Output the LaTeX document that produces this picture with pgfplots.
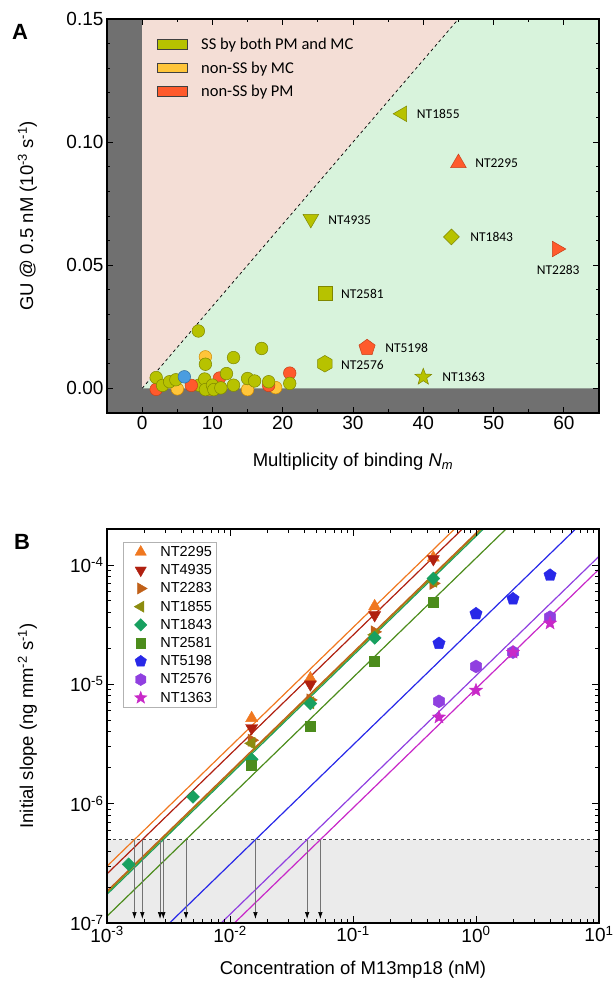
\documentclass[border=0pt]{standalone}
\usepackage{pgfplots}
\pgfplotsset{compat=1.18}
\usepackage{fontspec}
\setmainfont{Liberation Sans}
\newfontfamily\calib{Carlito}
\usetikzlibrary{arrows.meta}

\definecolor{dgrey}{HTML}{707070}
\definecolor{pinkbg}{HTML}{F4DED6}
\definecolor{greenbg}{HTML}{D8F3DC}
\definecolor{ssc}{HTML}{B7C200}
\definecolor{ssd}{HTML}{7F8700}
\definecolor{mcc}{HTML}{FFC53A}
\definecolor{mcd}{HTML}{D08A00}
\definecolor{pmc}{HTML}{FF5A2C}
\definecolor{pmd}{HTML}{C8401A}
\definecolor{bluec}{HTML}{4A9DE0}
\definecolor{c2295}{HTML}{F07820}
\definecolor{c4935}{HTML}{B02010}
\definecolor{c2283}{HTML}{C06018}
\definecolor{c1855}{HTML}{8C8C10}
\definecolor{c1843}{HTML}{18A060}
\definecolor{c2581}{HTML}{4C8C1C}
\definecolor{c5198}{HTML}{2828E8}
\definecolor{c2576}{HTML}{9040E0}
\definecolor{c1363}{HTML}{C828C8}

\pgfdeclareplotmark{hexagon*}{%
  \pgfpathmoveto{\pgfpointpolar{90}{\pgfplotmarksize}}%
  \pgfpathlineto{\pgfpointpolar{150}{\pgfplotmarksize}}%
  \pgfpathlineto{\pgfpointpolar{210}{\pgfplotmarksize}}%
  \pgfpathlineto{\pgfpointpolar{270}{\pgfplotmarksize}}%
  \pgfpathlineto{\pgfpointpolar{330}{\pgfplotmarksize}}%
  \pgfpathlineto{\pgfpointpolar{30}{\pgfplotmarksize}}%
  \pgfpathclose
  \pgfusepathqfillstroke}
\pgfdeclareplotmark{fstar*}{%
  \pgfpathmoveto{\pgfpointpolar{90}{\pgfplotmarksize}}%
  \pgfpathlineto{\pgfpointpolar{126}{0.42*\pgfplotmarksize}}%
  \pgfpathlineto{\pgfpointpolar{162}{\pgfplotmarksize}}%
  \pgfpathlineto{\pgfpointpolar{198}{0.42*\pgfplotmarksize}}%
  \pgfpathlineto{\pgfpointpolar{234}{\pgfplotmarksize}}%
  \pgfpathlineto{\pgfpointpolar{270}{0.42*\pgfplotmarksize}}%
  \pgfpathlineto{\pgfpointpolar{306}{\pgfplotmarksize}}%
  \pgfpathlineto{\pgfpointpolar{342}{0.42*\pgfplotmarksize}}%
  \pgfpathlineto{\pgfpointpolar{18}{\pgfplotmarksize}}%
  \pgfpathlineto{\pgfpointpolar{54}{0.42*\pgfplotmarksize}}%
  \pgfpathclose
  \pgfusepathqfillstroke}

\newcommand{\tickfont}{\fontsize{19}{21}\selectfont}
\newcommand{\labfont}{\fontsize{18.5}{21}\selectfont}

\begin{document}
\begin{tikzpicture}
% ---------------- Panel A ----------------
\begin{axis}[
  at={(107pt,577pt)}, anchor=south west,
  scale only axis, width=492pt, height=394pt,
  xmin=-5, xmax=65, ymin=-0.01, ymax=0.15,
  xtick={0,10,...,60}, minor x tick num=1,
  ytick={0,0.05,0.1,0.15}, minor y tick num=4,
  scaled y ticks=false,
  /pgf/number format/assume math mode=true,
  yticklabel style={/pgf/number format/.cd,fixed,fixed zerofill,precision=2},
  tick label style={font=\tickfont},
  tick align=inside, major tick length=6pt, minor tick length=3.5pt,
  tick style={black, line width=0.8pt},
  axis line style={line width=1.2pt},
  axis on top=true,
  xlabel={Multiplicity of binding \textit{N}\textsubscript{\textit{m}}},
  ylabel={GU @ 0.5 nM (10\textsuperscript{-3} s\textsuperscript{-1})},
  every axis x label/.style={at={(axis description cs:0.5,-0.124)}, anchor=center, font=\labfont},
  every axis y label/.style={at={(axis description cs:-0.162,0.5)}, anchor=center, rotate=90, font=\labfont},
  legend image code/.code={\draw[#1, line width=0.8pt] (0pt,-4.75pt) rectangle (30pt,4.75pt);},
  legend style={at={(axis description cs:0.096,0.962)}, anchor=north west, draw=none, fill=none,
    font=\calib\fontsize{16.5}{18}\selectfont, row sep=6.5pt,
    /tikz/every odd column/.append style={column sep=11pt}},
  legend cell align=left,
]
\addlegendimage{fill=ssc, draw=black!75}
\addlegendimage{fill=mcc, draw=black!75}
\addlegendimage{fill=pmc, draw=black!75}
% backgrounds
\addplot[fill=dgrey, draw=none] coordinates {(-5,-0.01) (65,-0.01) (65,0.15) (-5,0.15)};
\addplot[fill=pinkbg, draw=none] coordinates {(0,0) (65,0) (65,0.15) (0,0.15)};
\addplot[fill=greenbg, draw=none] coordinates {(0,0) (65,0) (65,0.15) (45,0.15)};
\addplot[black, dashed, line width=0.7pt] coordinates {(0,0) (45,0.15)};
% circles
\addplot[only marks, mark=*, mark size=6.3pt, mark options={fill=mcc, draw=mcd, line width=0.5pt}] coordinates {
(5,-0.0002) (9,0.0128) (15,-0.0005) (19,0.0003) (9.6,-0.0003)};
\addplot[only marks, mark=*, mark size=6.3pt, mark options={fill=pmc, draw=pmd, line width=0.5pt}] coordinates {
(2,-0.0004) (11,0.0042) (18,0.0012) (21,0.0062)};
\addplot[only marks, mark=*, mark size=6.3pt, mark options={fill=ssc, draw=ssd, line width=0.5pt}] coordinates {
(2,0.0044) (2.9,0.0012) (3.9,0.0027) (4.8,0.0035) (8,0.0233) (8.1,0.0013) (8.9,0.0038)
(9,0.0098) (9,-0.0005) (10,0.0013) (10.2,-0.0005) (11.2,0.0002) (12,0.006) (13,0.0125)
(13,0.0013) (15,0.004) (16,0.003) (17,0.0162) (18,0.0027) (21,0.002)};
\addplot[only marks, mark=*, mark size=6.3pt, mark options={fill=pmc, draw=pmd, line width=0.5pt}] coordinates {
(7,0.0012)};
\addplot[only marks, mark=*, mark size=6.3pt, mark options={fill=bluec, draw=bluec!70!black, line width=0.5pt}] coordinates {
(6,0.0047)};
% labelled markers
\addplot[only marks, mark=triangle*, mark size=9pt, mark options={rotate=90, fill=ssc, draw=ssd, line width=0.5pt}] coordinates {(37,0.1115)};
\addplot[only marks, mark=triangle*, mark size=9pt, mark options={fill=pmc, draw=pmd, line width=0.5pt}] coordinates {(45,0.0915)};
\addplot[only marks, mark=triangle*, mark size=9pt, mark options={rotate=180, fill=ssc, draw=ssd, line width=0.5pt}] coordinates {(24,0.0688)};
\addplot[only marks, mark=square*, mark size=5.6pt, mark options={rotate=45, fill=ssc, draw=ssd, line width=0.5pt}] coordinates {(44,0.0615)};
\addplot[only marks, mark=triangle*, mark size=9pt, mark options={rotate=-90, fill=pmc, draw=pmd, line width=0.5pt}] coordinates {(59,0.0566)};
\addplot[only marks, mark=square*, mark size=7pt, mark options={fill=ssc, draw=ssd, line width=0.5pt}] coordinates {(26,0.0387)};
\addplot[only marks, mark=pentagon*, mark size=8.5pt, mark options={fill=pmc, draw=pmd, line width=0.5pt}] coordinates {(32,0.0165)};
\addplot[only marks, mark=hexagon*, mark size=8.3pt, mark options={fill=ssc, draw=ssd, line width=0.5pt}] coordinates {(26,0.0100)};
\addplot[only marks, mark=fstar*, mark size=8.8pt, mark options={fill=ssc, draw=ssd, line width=0.5pt}] coordinates {(40,0.0046)};
\begin{scope}[every node/.style={font=\calib\fontsize{13.5}{15}\selectfont}]
\node[anchor=west] at (axis cs:38.6,0.1115) {NT1855};
\node[anchor=west] at (axis cs:46.9,0.0915) {NT2295};
\node[anchor=west] at (axis cs:26.0,0.0683) {NT4935};
\node[anchor=west] at (axis cs:46.2,0.0615) {NT1843};
\node[anchor=center] at (axis cs:59.2,0.0482) {NT2283};
\node[anchor=west] at (axis cs:27.8,0.0384) {NT2581};
\node[anchor=west] at (axis cs:34.1,0.0163) {NT5198};
\node[anchor=west] at (axis cs:27.8,0.0096) {NT2576};
\node[anchor=west] at (axis cs:42.2,0.0047) {NT1363};
\end{scope}
\legend{SS by both PM and MC, non-SS by MC, non-SS by PM}
\end{axis}
\node[font=\bfseries\fontsize{22}{24}\selectfont] at (20pt,958pt) {A};

% ---------------- Panel B ----------------
\begin{axis}[
  at={(107pt,67pt)}, anchor=south west,
  scale only axis, width=492pt, height=394pt,
  xmode=log, ymode=log,
  xmin=1e-3, xmax=10, ymin=1e-7, ymax=2e-4,
  xtick={1e-3,1e-2,1e-1,1,10},
  xticklabels={10\textsuperscript{-3},10\textsuperscript{-2},10\textsuperscript{-1},10\textsuperscript{0},10\textsuperscript{1}},
  minor xtick={2e-3,3e-3,4e-3,5e-3,6e-3,7e-3,8e-3,9e-3,2e-2,3e-2,4e-2,5e-2,6e-2,7e-2,8e-2,9e-2,
    0.2,0.3,0.4,0.5,0.6,0.7,0.8,0.9,2,3,4,5,6,7,8,9},
  ytick={1e-7,1e-6,1e-5,1e-4},
  yticklabels={10\textsuperscript{-7},10\textsuperscript{-6},10\textsuperscript{-5},10\textsuperscript{-4}},
  minor ytick={2e-7,3e-7,4e-7,5e-7,6e-7,7e-7,8e-7,9e-7,2e-6,3e-6,4e-6,5e-6,6e-6,7e-6,8e-6,9e-6,
    2e-5,3e-5,4e-5,5e-5,6e-5,7e-5,8e-5,9e-5,2e-4},
  tick label style={font=\tickfont},
  tick align=inside, major tick length=7pt, minor tick length=4pt,
  tick style={black, line width=0.8pt},
  axis line style={line width=1.2pt},
  axis on top=true,
  xlabel={Concentration of M13mp18 (nM)},
  ylabel={Initial slope (ng mm\textsuperscript{-2} s\textsuperscript{-1})},
  every axis x label/.style={at={(axis description cs:0.5,-0.119)}, anchor=center, font=\labfont},
  every axis y label/.style={at={(axis description cs:-0.162,0.5)}, anchor=center, rotate=90, font=\labfont},
  legend image code/.code={\path (0pt,0pt) (31pt,0pt); \draw[#1] plot coordinates {(15.6pt,0pt)};},
  legend style={at={(axis description cs:0.032,0.967)}, anchor=north west, draw=gray!60, fill=white,
    font=\fontsize{14.5}{16}\selectfont, row sep=2.6pt, inner sep=2pt,
    /tikz/every odd column/.append style={column sep=2pt}},
  legend cell align=left,
]
\addlegendimage{mark=triangle*, mark size=6.5pt, color=c2295}
\addlegendimage{mark=triangle*, mark size=6.5pt, mark options={rotate=180}, color=c4935}
\addlegendimage{mark=triangle*, mark size=6.5pt, mark options={rotate=-90}, color=c2283}
\addlegendimage{mark=triangle*, mark size=6.5pt, mark options={rotate=90}, color=c1855}
\addlegendimage{mark=square*, mark size=4.4pt, mark options={rotate=45}, color=c1843}
\addlegendimage{mark=square*, mark size=4.6pt, color=c2581}
\addlegendimage{mark=pentagon*, mark size=6pt, color=c5198}
\addlegendimage{mark=hexagon*, mark size=6pt, color=c2576}
\addlegendimage{mark=fstar*, mark size=6.5pt, color=c1363}
\addplot[fill=black!8, draw=none, forget plot] coordinates {(1e-3,1e-7) (10,1e-7) (10,5e-7) (1e-3,5e-7)};
\addplot[black!70, dashed, line width=0.7pt, forget plot] coordinates {(1e-3,5e-7) (10,5e-7)};
% fitted lines y = k x
\addplot[c2295, line width=1.2pt, forget plot] coordinates {(1e-3,2.99e-7) (10,2.99e-3)};
\addplot[c4935, line width=1.2pt, forget plot] coordinates {(1e-3,2.58e-7) (10,2.58e-3)};
\addplot[c1843, line width=1.2pt, forget plot] coordinates {(1e-3,1.74e-7) (10,1.74e-3)};
\addplot[c1855, line width=1.2pt, forget plot] coordinates {(1e-3,1.80e-7) (10,1.80e-3)};
\addplot[c2283, line width=1.2pt, forget plot] coordinates {(1e-3,1.85e-7) (10,1.85e-3)};
\addplot[c2581, line width=1.2pt, forget plot] coordinates {(1e-3,1.14e-7) (10,1.14e-3)};
\addplot[c5198, line width=1.2pt, forget plot] coordinates {(1e-3,3.1e-8) (10,3.1e-4)};
\addplot[c2576, line width=1.2pt, forget plot] coordinates {(1e-3,1.18e-8) (10,1.18e-4)};
\addplot[c1363, line width=1.2pt, forget plot] coordinates {(1e-3,9.2e-9) (10,9.2e-5)};
% arrows
\pgfplotsinvokeforeach{1.672e-3,1.938e-3,2.70e-3,2.87e-3,4.39e-3,1.61e-2,4.24e-2,5.43e-2}{
  \addplot[black!55, line width=0.7pt, -{Latex[length=7pt,width=4.5pt,black]}, forget plot] coordinates {(#1,5e-7) (#1,1.08e-7)};
}
% data
\addplot[only marks, mark=triangle*, mark size=7pt, color=c2295, forget plot] coordinates {(0.015,5.2e-6) (0.045,1.12e-5) (0.15,4.5e-5) (0.45,1.15e-4)};
\addplot[only marks, mark=triangle*, mark size=7pt, mark options={rotate=180}, color=c4935, forget plot] coordinates {(0.015,4.3e-6) (0.045,1.0e-5) (0.15,3.8e-5) (0.45,1.12e-4)};
\addplot[only marks, mark=triangle*, mark size=7pt, mark options={rotate=-90}, color=c2283, forget plot] coordinates {(0.015,3.4e-6) (0.045,7.4e-6) (0.15,2.75e-5) (0.45,7.0e-5)};
\addplot[only marks, mark=triangle*, mark size=7pt, mark options={rotate=90}, color=c1855, forget plot] coordinates {(0.015,3.2e-6) (0.045,7.0e-6) (0.15,2.6e-5) (0.45,7.3e-5)};
\addplot[only marks, mark=square*, mark size=4.6pt, mark options={rotate=45}, color=c1843, forget plot] coordinates {(0.0015,3.1e-7) (0.005,1.14e-6) (0.015,2.35e-6) (0.045,6.9e-6) (0.15,2.45e-5) (0.45,7.7e-5)};
\addplot[only marks, mark=square*, mark size=5pt, color=c2581, forget plot] coordinates {(0.015,2.1e-6) (0.045,4.45e-6) (0.15,1.56e-5) (0.45,4.9e-5)};
\addplot[only marks, mark=pentagon*, mark size=6.5pt, color=c5198, forget plot] coordinates {(0.5,2.2e-5) (1,3.9e-5) (2,5.2e-5) (4,8.2e-5)};
\addplot[only marks, mark=hexagon*, mark size=6.5pt, color=c2576, forget plot] coordinates {(0.5,7.2e-6) (1,1.41e-5) (2,1.86e-5) (4,3.65e-5)};
\addplot[only marks, mark=fstar*, mark size=7pt, color=c1363, forget plot] coordinates {(0.5,5.3e-6) (1,8.9e-6) (2,1.85e-5) (4,3.25e-5)};
\legend{NT2295,NT4935,NT2283,NT1855,NT1843,NT2581,NT5198,NT2576,NT1363}
\end{axis}
\node[font=\bfseries\fontsize{22}{24}\selectfont] at (22pt,448pt) {B};

\pgfresetboundingbox
\path[use as bounding box] (0pt,0pt) rectangle (615pt,990pt);
\end{tikzpicture}
\end{document}
